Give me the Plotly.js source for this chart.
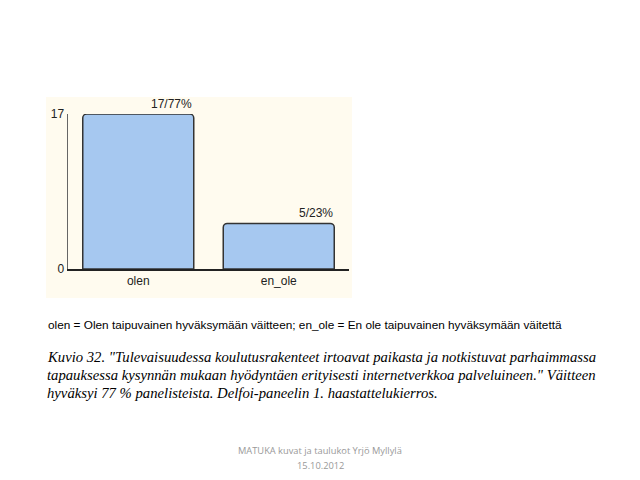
<!DOCTYPE html>
<html>
<head>
<meta charset="utf-8">
<script src="https://cdn.plot.ly/plotly-3.0.1.min.js"></script>
<style>
  body { margin: 0; background: #fff; }
  #chart { width: 640px; height: 480px; }
</style>
</head>
<body>
<div id="chart"></div>
<script>
var categories = ['olen', 'en_ole'];
var counts = [17, 5];
var barLabels = ['17/77%', '5/23%'];
var yTicks = [0, 17];

var legendText = 'olen = Olen taipuvainen hyväksymään väitteen; en_ole = En ole taipuvainen hyväksymään väitettä';
var captionLines = [
  'Kuvio 32. "Tulevaisuudessa koulutusrakenteet irtoavat paikasta ja notkistuvat parhaimmassa',
  'tapauksessa kysynnän mukaan hyödyntäen erityisesti internetverkkoa palveluineen." Väitteen',
  'hyväksyi 77 % panelisteista. Delfoi-paneelin 1. haastattelukierros.'
];
var footerLines = ['MATUKA kuvat ja taulukot Yrjö Myllylä', '15.10.2012'];

// plot area in pixels
var L = 68, R = 349, T = 114, B = 269;
function px(x) { return (x - L) / (R - L); }
function py(y) { return (B - y) / (B - T); }

var trace = {
  type: 'bar',
  x: categories,
  y: counts,
  marker: {
    color: '#A6C8F0',
    line: { color: '#333', width: 1.5 },
    cornerradius: 4
  },
  hoverinfo: 'none'
};

var annotations = [];
categories.forEach(function (c, i) {
  annotations.push({
    x: c, y: counts[i], xref: 'x', yref: 'y',
    text: barLabels[i], showarrow: false,
    xanchor: 'right', yanchor: 'bottom', xshift: 56, yshift: 1,
    font: { family: 'Liberation Sans, Arial', size: 12, color: '#222' }
  });
});

annotations.push({
  x: px(46), y: py(325), xref: 'paper', yref: 'paper',
  text: legendText, showarrow: false, xanchor: 'left', yanchor: 'middle',
  font: { family: 'Liberation Sans, Arial', size: 11.8, color: '#000' }
});

captionLines.forEach(function (line, i) {
  annotations.push({
    x: px(45), y: py(357 + i * 18), xref: 'paper', yref: 'paper',
    text: '<i>' + line + '</i>', showarrow: false, xanchor: 'left', yanchor: 'middle',
    font: { family: 'Liberation Serif, Times New Roman', size: 14.7, color: '#000' }
  });
});

footerLines.forEach(function (line, i) {
  annotations.push({
    x: px(320), y: py(451 + i * 14), xref: 'paper', yref: 'paper',
    text: line, showarrow: false, xanchor: 'center', yanchor: 'middle', borderpad: 0,
    font: { family: 'Open Sans, Liberation Sans', size: 9.3, color: '#999' }
  });
});

var layout = {
  width: 640,
  height: 480,
  margin: { l: L, r: 640 - R, t: T, b: 480 - B, pad: 0 },
  paper_bgcolor: '#fff',
  plot_bgcolor: 'rgba(0,0,0,0)',
  showlegend: false,
  bargap: 0.21,
  xaxis: {
    type: 'category',
    range: [-0.5, 1.5],
    showline: true, linecolor: '#222', linewidth: 1.5,
    showgrid: false, zeroline: false, ticks: '',
    tickfont: { family: 'Liberation Sans, Arial', size: 12, color: '#222' },
    fixedrange: true
  },
  yaxis: {
    range: [0, 17],
    tickvals: yTicks,
    ticktext: yTicks.map(String),
    showline: true, linecolor: '#666', linewidth: 1.5,
    showgrid: false, zeroline: false, ticks: '',
    tickfont: { family: 'Liberation Sans, Arial', size: 12, color: '#222' },
    fixedrange: true
  },
  shapes: [{
    type: 'rect', xref: 'paper', yref: 'paper', layer: 'below',
    x0: px(46), x1: px(352), y0: py(298), y1: py(97),
    fillcolor: '#FFFBEF', line: { width: 0 }
  }],
  annotations: annotations
};

Plotly.newPlot('chart', [trace], layout, { displayModeBar: false, staticPlot: true });
</script>
</body>
</html>
